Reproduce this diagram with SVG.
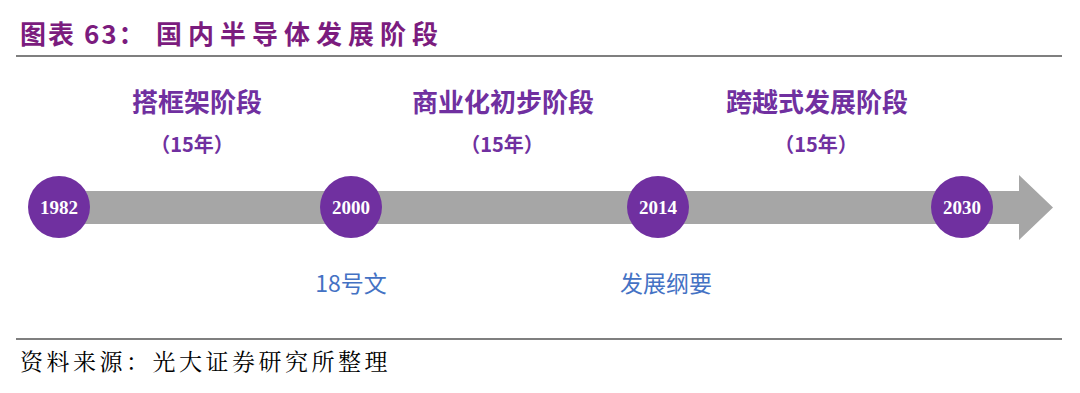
<svg xmlns="http://www.w3.org/2000/svg" width="1080" height="393" viewBox="0 0 1080 393">
<style>
.title{font-family:"Noto Sans CJK SC","Liberation Sans",sans-serif;font-size:26px;font-weight:bold;fill:#7B1C7E}
.rule{stroke:#7F7F7F;stroke-width:2}
.yr{fill:#7030A0}
.yrt{font-family:"Liberation Serif","Noto Serif",serif;font-size:19px;font-weight:bold;fill:#FFFFFF;text-anchor:middle}
.stage{font-family:"Noto Sans CJK SC",sans-serif;font-size:26px;font-weight:bold;fill:#7030A0;text-anchor:middle}
.dur{font-family:"Noto Sans CJK SC",sans-serif;font-size:20px;font-weight:bold;fill:#7030A0;text-anchor:middle}
.doc{font-family:"Noto Sans CJK SC",sans-serif;font-size:23px;fill:#4472C4;text-anchor:middle}
.src{font-family:"Noto Serif CJK SC","Noto Sans CJK SC",serif;font-size:23px;letter-spacing:3.5px;fill:#000000}
</style>
<rect width="1080" height="393" fill="#FFFFFF"/>
<text class="title" x="20" y="44" letter-spacing="2">图表 63：</text>
<text class="title" x="156" y="44" letter-spacing="6">国内半导体发展阶段</text>
<line class="rule" x1="16" y1="56" x2="1062" y2="56"/>
<g id="connectors">
<path d="M55,191 H1019 V175 L1053,207.5 L1019,240 V224 H55 Z" fill="#A6A6A6"/>
</g>
<g id="n1982"><circle class="yr" cx="59" cy="207" r="31"/><text class="yrt" x="59" y="214">1982</text></g>
<g id="n2000"><circle class="yr" cx="351" cy="207" r="31"/><text class="yrt" x="351" y="214">2000</text></g>
<g id="n2014"><circle class="yr" cx="658" cy="207" r="31"/><text class="yrt" x="658" y="214">2014</text></g>
<g id="n2030"><circle class="yr" cx="962" cy="207" r="31"/><text class="yrt" x="962" y="214">2030</text></g>
<g id="stage1"><text class="stage" x="197" y="112">搭框架阶段</text><text class="dur" x="192" y="152">（15年）</text></g>
<g id="stage2"><text class="stage" x="503" y="112">商业化初步阶段</text><text class="dur" x="502" y="152">（15年）</text></g>
<g id="stage3"><text class="stage" x="817" y="112">跨越式发展阶段</text><text class="dur" x="816" y="152">（15年）</text></g>
<g id="doc1"><text class="doc" x="351" y="292">18号文</text></g>
<g id="doc2"><text class="doc" x="666" y="292">发展纲要</text></g>
<line class="rule" x1="16" y1="339" x2="1062" y2="339"/>
<text class="src" x="20" y="370">资料来源：光大证券研究所整理</text>
</svg>
